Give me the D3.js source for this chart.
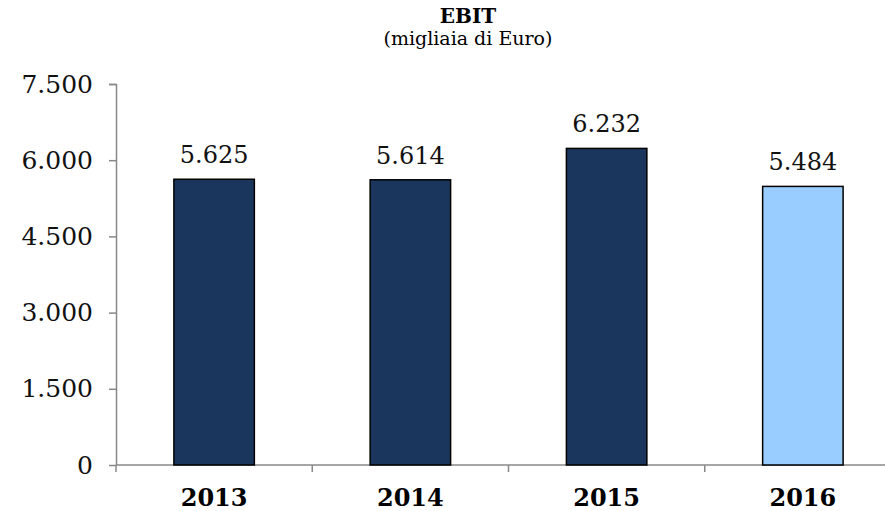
<!DOCTYPE html>
<html>
<head>
<meta charset="utf-8">
<script src="https://cdn.jsdelivr.net/npm/d3@7"></script>
<style>
  body { margin: 0; background: #fff; }
  svg { display: block; }
</style>
</head>
<body>
<div id="chart"></div>
<script>
var years = ["2013", "2014", "2015", "2016"];
var ebit = [5625, 5614, 6232, 5484];
var barColors = ["#1b365d", "#1b365d", "#1b365d", "#99ccff"];
var yTicks = [0, 1500, 3000, 4500, 6000, 7500];

var W = 885, H = 511,
    margin = {top: 84, right: -16, bottom: 46, left: 116},
    width = W - margin.left - margin.right,
    height = H - margin.top - margin.bottom;

var fmt = function(v) { return d3.format(",")(v).replace(/,/g, "."); };

var svg = d3.select("#chart").append("svg")
    .attr("width", W)
    .attr("height", H);

svg.append("text")
    .attr("x", 468).attr("y", 23)
    .attr("text-anchor", "middle")
    .style("font-family", "'DejaVu Serif', serif")
    .style("font-weight", "bold")
    .style("font-size", "20px")
    .text("EBIT");

svg.append("text")
    .attr("x", 468).attr("y", 45)
    .attr("text-anchor", "middle")
    .style("font-family", "'DejaVu Serif', serif")
    .style("font-size", "19px")
    .text("(migliaia di Euro)");

var g = svg.append("g")
    .attr("transform", "translate(" + margin.left + "," + margin.top + ")");

var x = d3.scaleBand().domain(years).range([0, width]).paddingInner(0.59).paddingOuter(0.295);
var y = d3.scaleLinear().domain([0, 7500]).range([height, 0]);

// y axis
var yAxis = g.append("g")
    .call(d3.axisLeft(y).tickValues(yTicks).tickSize(7).tickPadding(16).tickFormat(fmt));
yAxis.select(".domain").attr("stroke", "#888").attr("stroke-width", 1.5).attr("d", "M-7,0.5H0.5V" + height);
yAxis.selectAll(".tick line").attr("stroke", "#888").attr("stroke-width", 1.5);
yAxis.selectAll("text")
    .style("font-family", "'DejaVu Serif', serif")
    .style("font-size", "25px")
    .attr("fill", "#111");

// x axis with ticks at category boundaries
var step = x.step();
var bounds = d3.range(years.length + 1).map(function(i) { return i * step; });
var xg = g.append("g").attr("transform", "translate(0," + height + ")");
xg.append("line").attr("x1", 0).attr("x2", width).attr("stroke", "#888").attr("stroke-width", 1.5);
xg.selectAll(".bt").data(bounds).enter().append("line")
    .attr("x1", function(d) { return d; }).attr("x2", function(d) { return d; })
    .attr("y1", 0).attr("y2", 7)
    .attr("stroke", "#888").attr("stroke-width", 1.5);
xg.selectAll(".lab").data(years).enter().append("text")
    .attr("x", function(d) { return x(d) + x.bandwidth() / 2; })
    .attr("y", 41)
    .attr("text-anchor", "middle")
    .style("font-family", "'DejaVu Serif', serif")
    .style("font-weight", "bold")
    .style("font-size", "24px")
    .text(function(d) { return d; });

// bars
g.selectAll(".bar").data(ebit).enter().append("rect")
    .attr("x", function(d, i) { return x(years[i]); })
    .attr("y", function(d) { return y(d); })
    .attr("width", x.bandwidth())
    .attr("height", function(d) { return height - y(d); })
    .attr("fill", function(d, i) { return barColors[i]; })
    .attr("stroke", "#000")
    .attr("stroke-width", 1.5);

// value labels
g.selectAll(".val").data(ebit).enter().append("text")
    .attr("x", function(d, i) { return x(years[i]) + x.bandwidth() / 2; })
    .attr("y", function(d) { return y(d) - 16; })
    .attr("text-anchor", "middle")
    .style("font-family", "'DejaVu Serif', serif")
    .style("font-size", "24px")
    .attr("fill", "#111")
    .text(fmt);
</script>
</body>
</html>
